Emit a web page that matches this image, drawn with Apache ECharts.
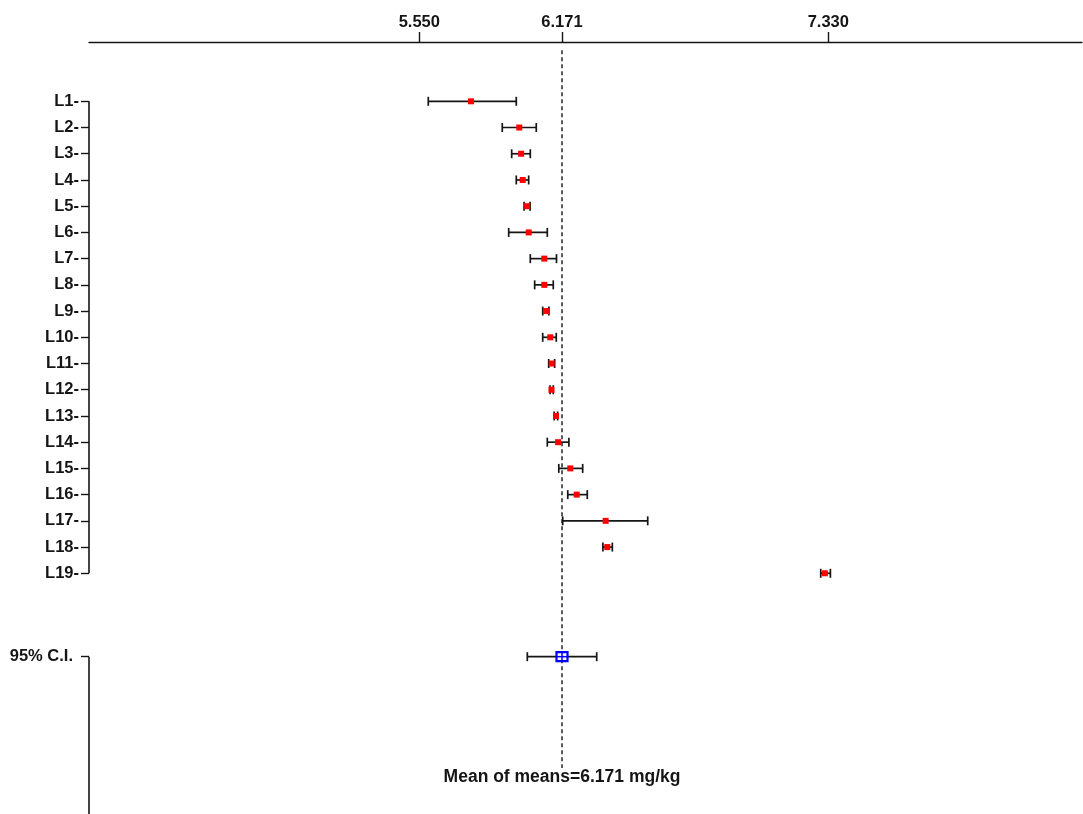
<!DOCTYPE html>
<html>
<head>
<meta charset="utf-8">
<title>Mean of means</title>
<script src="https://cdn.jsdelivr.net/npm/echarts@6/dist/echarts.min.js"></script>
<style>
  html, body { margin: 0; padding: 0; background: #ffffff; }
  #chart { width: 1083px; height: 814px; }
</style>
</head>
<body>
<div id="chart"></div>
<script>
// Laboratory results: mean with lower / upper interval limits (mg/kg)
const categories = ['L1', 'L2', 'L3', 'L4', 'L5', 'L6', 'L7', 'L8', 'L9', 'L10',
                    'L11', 'L12', 'L13', 'L14', 'L15', 'L16', 'L17', 'L18', 'L19'];
const lower = [5.589, 5.911, 5.952, 5.972, 6.006, 5.939, 6.033, 6.052, 6.087, 6.087,
               6.113, 6.119, 6.137, 6.107, 6.157, 6.196, 6.174, 6.349, 7.297];
const means = [5.775, 5.985, 5.993, 6.000, 6.019, 6.026, 6.094, 6.094, 6.101, 6.120,
               6.126, 6.125, 6.145, 6.154, 6.207, 6.235, 6.361, 6.368, 7.315];
const upper = [5.972, 6.059, 6.033, 6.026, 6.032, 6.107, 6.147, 6.133, 6.114, 6.146,
               6.139, 6.133, 6.152, 6.201, 6.261, 6.281, 6.544, 6.390, 7.339];

// Overall estimate with its 95% confidence interval
const ciLabel = '95% C.I.';
const ciLower = 6.020;
const meanOfMeans = 6.171;
const ciUpper = 6.322;
const unit = 'mg/kg';

// Labelled ticks on the top axis
const tickValues = [5.550, 6.171, 7.330];

// Row positions on the vertical value scale (inverted)
const rowPos = categories.map((c, i) => i + 1);
const ciPos = 22.18;
const Y_MIN = -1.2616, Y_MAX = 28.18;
const X_MIN = 4.1125, X_MAX = 8.434;

const INK = '#151515';
const FONT = '"Liberation Sans", Arial, sans-serif';

const chart = echarts.init(document.getElementById('chart'), null, { renderer: 'canvas' });

function errorBar(params, api) {
  const y = api.value(0);
  const pLo = api.coord([api.value(1), y]);
  const pM = api.coord([api.value(2), y]);
  const pHi = api.coord([api.value(3), y]);
  const isCI = api.value(4) === 1;
  const cap = 4.5;
  const stroke = { stroke: INK, lineWidth: 1.7 };
  const children = [
    { type: 'line', shape: { x1: pLo[0], y1: pLo[1], x2: pHi[0], y2: pHi[1] }, style: stroke },
    { type: 'line', shape: { x1: pLo[0], y1: pLo[1] - cap, x2: pLo[0], y2: pLo[1] + cap }, style: stroke },
    { type: 'line', shape: { x1: pHi[0], y1: pHi[1] - cap, x2: pHi[0], y2: pHi[1] + cap }, style: stroke }
  ];
  if (isCI) {
    const w = 11, h = 9;
    children.push(
      { type: 'rect', shape: { x: pM[0] - w / 2, y: pM[1] - h / 2, width: w, height: h },
        style: { fill: '#ffffff', stroke: '#0000ff', lineWidth: 2.2 } },
      { type: 'line', shape: { x1: pM[0], y1: pM[1] - h / 2, x2: pM[0], y2: pM[1] + h / 2 },
        style: { stroke: '#0000ff', lineWidth: 1.5 } },
      { type: 'line', shape: { x1: pM[0] - w / 2, y1: pM[1], x2: pM[0] + w / 2, y2: pM[1] },
        style: { stroke: '#0000ff', lineWidth: 1.5 } }
    );
  } else {
    const s = 6;
    children.push({ type: 'rect', shape: { x: pM[0] - s / 2, y: pM[1] - s / 2, width: s, height: s },
      style: { fill: '#ff0000' } });
  }
  return { type: 'group', children };
}

const barData = categories.map((c, i) => [rowPos[i], lower[i], means[i], upper[i], 0]);
barData.push([ciPos, ciLower, meanOfMeans, ciUpper, 1]);

const tickLabelValues = rowPos.concat([ciPos]);

chart.setOption({
  animation: false,
  backgroundColor: '#ffffff',
  grid: { left: 89, right: 1, top: 42, bottom: 0, containLabel: false },
  xAxis: {
    type: 'value',
    position: 'top',
    min: X_MIN,
    max: X_MAX,
    axisLine: { show: true, onZero: false, lineStyle: { color: INK, width: 1.4 } },
    axisTick: { show: true, customValues: tickValues, length: 10, lineStyle: { color: INK, width: 1.4 } },
    axisLabel: {
      customValues: tickValues,
      formatter: v => Number(v).toFixed(3),
      color: INK, fontFamily: FONT, fontWeight: 'bold', fontSize: 16.5, margin: 11
    },
    splitLine: { show: false }
  },
  yAxis: {
    type: 'value',
    inverse: true,
    min: Y_MIN,
    max: Y_MAX,
    axisLine: { show: false, onZero: false },
    axisTick: { show: true, customValues: tickLabelValues, length: 8, lineStyle: { color: INK, width: 1.4 } },
    axisLabel: {
      customValues: tickLabelValues,
      formatter: v => {
        if (Math.abs(v - ciPos) < 1e-6) return '{ci|' + ciLabel + '}';
        return categories[rowPos.indexOf(Math.round(v))] + '-';
      },
      color: INK, fontFamily: FONT, fontWeight: 'bold', fontSize: 16.5, margin: 10,
      rich: { ci: { color: INK, fontFamily: FONT, fontWeight: 'bold', fontSize: 16.5, padding: [0, 6, 0, 0] } }
    },
    splitLine: { show: false }
  },
  series: [
    {
      // vertical axis drawn in two pieces: the lab rows and the interval row down to the bottom
      type: 'custom',
      silent: true,
      data: [[rowPos[0], rowPos[rowPos.length - 1]], [ciPos, Y_MAX]],
      encode: { y: [0, 1] },
      renderItem: (params, api) => {
        const x = params.coordSys.x;
        const a = api.coord([X_MIN, api.value(0)]);
        const b = api.coord([X_MIN, api.value(1)]);
        return { type: 'line', shape: { x1: x, y1: a[1], x2: x, y2: b[1] },
                 style: { stroke: INK, lineWidth: 1.6 } };
      }
    },
    {
      // reference line at the mean of means with its caption
      type: 'custom',
      silent: true,
      data: [[meanOfMeans, -0.95, 26.43, 26.79]],
      encode: { x: 0, y: [1, 2] },
      renderItem: (params, api) => {
        const top = api.coord([api.value(0), api.value(1)]);
        const bot = api.coord([api.value(0), api.value(2)]);
        const txt = api.coord([api.value(0), api.value(3)]);
        return { type: 'group', children: [
          { type: 'line', shape: { x1: top[0], y1: top[1], x2: bot[0], y2: bot[1] },
            style: { stroke: '#333333', lineWidth: 1.6, lineDash: [4, 3] } },
          { type: 'text', x: txt[0], y: txt[1],
            style: { text: 'Mean of means=' + meanOfMeans.toFixed(3) + ' ' + unit,
                     fill: INK, font: 'bold 17.5px ' + FONT, align: 'center', verticalAlign: 'middle' } }
        ] };
      }
    },
    {
      type: 'custom',
      silent: true,
      data: barData,
      encode: { y: 0, x: [1, 2, 3] },
      renderItem: errorBar,
      z: 5
    }
  ]
});
</script>
</body>
</html>
